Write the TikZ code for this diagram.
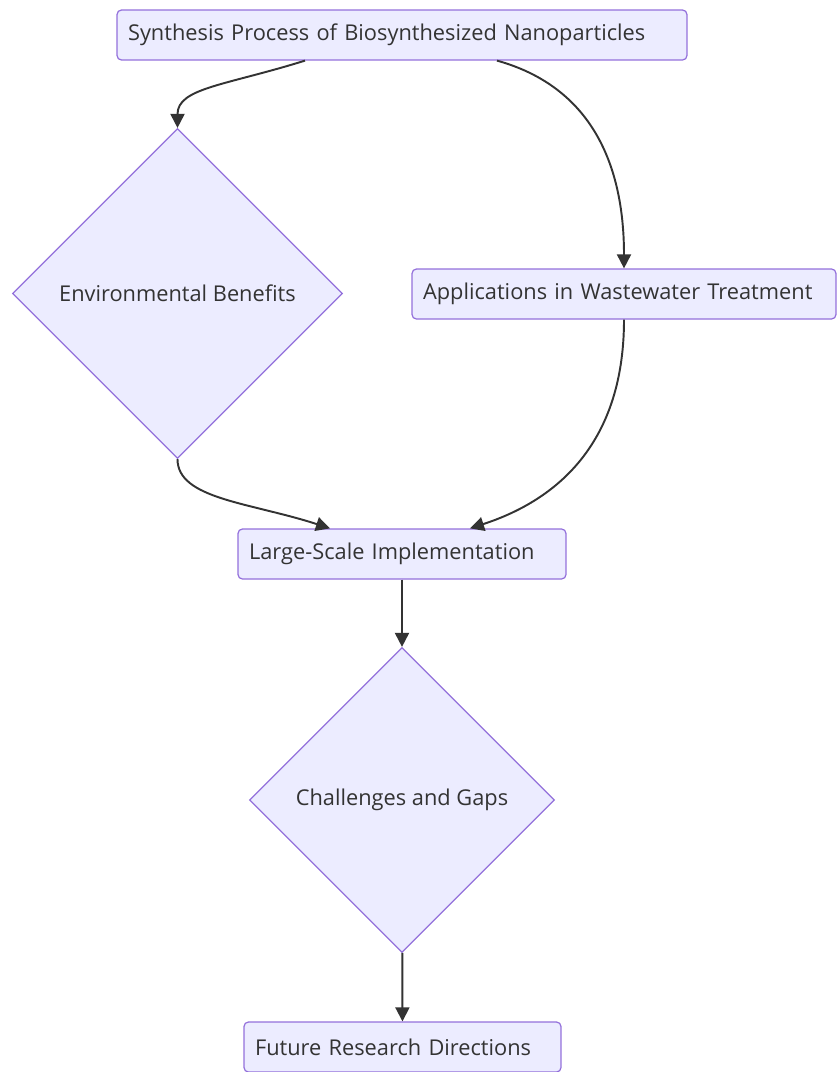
\documentclass[tikz,border=0pt]{standalone}
\usepackage{fontspec}
\setmainfont{Open Sans}
\usetikzlibrary{shapes.geometric,arrows.meta}

\definecolor{nodefill}{HTML}{ECECFF}
\definecolor{nodeline}{HTML}{9370DB}
\definecolor{edgeline}{HTML}{333333}

\tikzset{
    procbox/.style={shape=rectangle,draw=nodeline,fill=nodefill,line width=0.7pt,
        rounded corners=2.5pt,minimum height=1cm,inner xsep=0.22cm,align=left,
        text=edgeline,font=\fontsize{12.4}{15}\selectfont},
    decision/.style={shape=diamond,draw=nodeline,fill=nodefill,line width=0.7pt,
        aspect=1,inner sep=0pt,text=edgeline,font=\fontsize{12.4}{15}\selectfont},
    flow/.style={draw=edgeline,line width=1.1pt,-{Triangle[length=8pt,width=8pt]}}
}

\begin{document}
\begin{tikzpicture}[x=0.02cm,y=-0.02cm]
        \useasboundingbox (0,0) rectangle (837,1072);

        \node (Synthesis Process) [procbox,text width=10.96cm] at (402,35)
            {Synthesis Process of Biosynthesized Nanoparticles};
        \node (Environmental Benefits) [decision,minimum width=6.6cm,minimum height=6.6cm] at (177.5,293.5)
            {Environmental Benefits};
        \node (Wastewater Treatment) [procbox,text width=8.04cm] at (624,294)
            {Applications in Wastewater Treatment};
        \node (Large Scale) [procbox,text width=6.12cm] at (402,554)
            {Large-Scale Implementation};
        \node (Challenges and Gaps) [decision,minimum width=6.1cm,minimum height=6.1cm] at (402,800)
            {Challenges and Gaps};
        \node (Future Research) [procbox,text width=5.9cm] at (402.5,1047)
            {Future Research Directions};

        \draw [flow] ([xshift=-1.94cm]Synthesis Process.south)
            .. controls +(-80,25) and +(0,-40) .. (Environmental Benefits.north);
        \draw [flow] ([xshift=1.9cm]Synthesis Process.south)
            .. controls +(90,25) and +(0,-110) .. (Wastewater Treatment.north);
        \draw [flow] (Environmental Benefits.south)
            .. controls +(0,40) and +(-80,-26) .. ([xshift=-1.44cm]Large Scale.north);
        \draw [flow] (Wastewater Treatment.south)
            .. controls +(0,130) and +(80,-26) .. ([xshift=1.36cm]Large Scale.north);
        \draw [flow] (Large Scale) -- (Challenges and Gaps);
        \draw [flow] (Challenges and Gaps) -- (Future Research);
    \end{tikzpicture}
\end{document}
